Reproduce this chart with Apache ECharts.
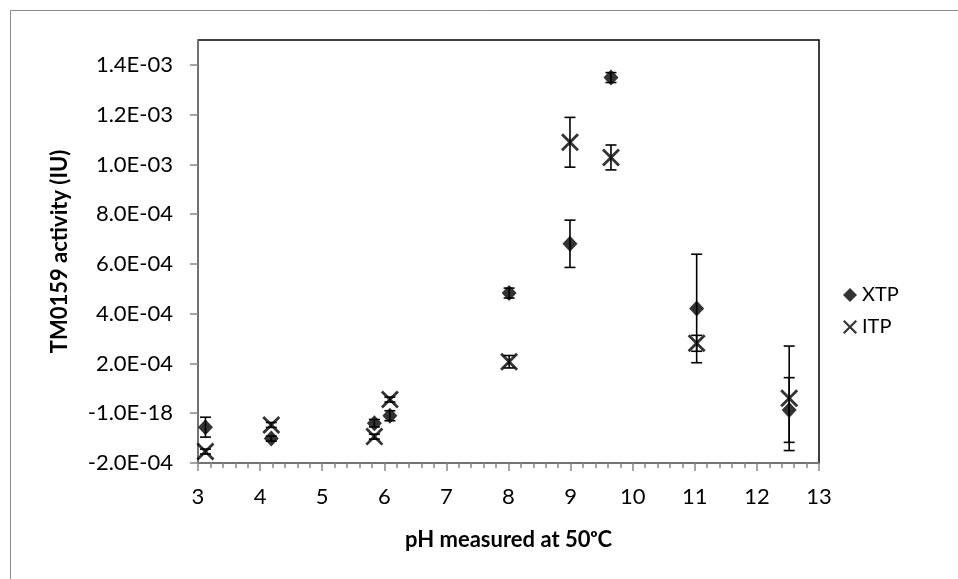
<!DOCTYPE html>
<html>
<head>
<meta charset="utf-8">
<script src="https://cdn.jsdelivr.net/npm/echarts@6/dist/echarts.min.js"></script>
<style>
  html, body { margin: 0; padding: 0; background: #fff; }
  #chart { width: 958px; height: 579px; }
</style>
</head>
<body>
<div id="chart"></div>
<script>
// pH values (x)
var phXtp = [3.12, 4.18, 5.84, 6.09, 8.01, 8.99, 9.65, 11.03, 12.52];
var phItp = [3.12, 4.18, 5.84, 6.09, 8.01, 8.99, 9.65, 11.03, 12.52];

// activity (IU) and error (+/-)
var xtpVals = [-5.6e-5, -1.02e-4, -4.0e-5, -1.0e-5, 4.83e-4, 6.81e-4, 1.349e-3, 4.21e-4, 1.3e-5];
var xtpErr  = [4.0e-5, 1.0e-5, 1.5e-5, 2.0e-5, 2.0e-5, 9.5e-5, 2.0e-5, 2.18e-4, 1.3e-4];
var itpVals = [-1.54e-4, -4.7e-5, -9.4e-5, 5.5e-5, 2.07e-4, 1.089e-3, 1.028e-3, 2.81e-4, 6.0e-5];
var itpErr  = [1.0e-5, 1.0e-5, 1.0e-5, 1.0e-5, 2.5e-5, 1.0e-4, 5.0e-5, 3.2e-5, 2.1e-4];

// y ticks as excel printed them
var yTickVals   = [-2e-4, 0, 2e-4, 4e-4, 6e-4, 8e-4, 1e-3, 1.2e-3, 1.4e-3];
var yTickLabels = ['-2.0E-04', '-1.0E-18', '2.0E-04', '4.0E-04', '6.0E-04', '8.0E-04', '1.0E-03', '1.2E-03', '1.4E-03'];

var FONT = 'Lato';
var xSymbol = 'path://M0,2.2L2.2,0L10,7.8L17.8,0L20,2.2L12.2,10L20,17.8L17.8,20L10,12.2L2.2,20L0,17.8L7.8,10Z';

function pairs(xs, ys) {
    var out = [];
    xs.forEach(function (x, i) { out.push([x, ys[i]]); });
    return out;
}

function errData(xs, ys, errs) {
    var out = [];
    xs.forEach(function (x, i) { out.push([x, ys[i] - errs[i], ys[i] + errs[i]]); });
    return out;
}

function renderErr(params, api) {
    var lo = api.coord([api.value(0), api.value(1)]);
    var hi = api.coord([api.value(0), api.value(2)]);
    var w = 5.5;
    var st = { stroke: '#000', lineWidth: 1.6 };
    return {
        type: 'group',
        children: [
            { type: 'line', shape: { x1: lo[0], y1: lo[1], x2: hi[0], y2: hi[1] }, style: st },
            { type: 'line', shape: { x1: hi[0] - w, y1: hi[1], x2: hi[0] + w, y2: hi[1] }, style: st },
            { type: 'line', shape: { x1: lo[0] - w, y1: lo[1], x2: lo[0] + w, y2: lo[1] }, style: st }
        ]
    };
}

function labelOf(value) {
    for (var i = 0; i < yTickVals.length; i++) {
        if (Math.abs(value - yTickVals[i]) < 1e-9) return yTickLabels[i];
    }
    return '';
}

var chart = echarts.init(document.getElementById('chart'));

var option = {
    backgroundColor: '#fff',
    animation: false,
    graphic: [{
        type: 'rect',
        shape: { x: 10.5, y: 10.5, width: 1200, height: 1200 },
        style: { fill: 'none', stroke: '#8c8c8c', lineWidth: 1 },
        silent: true
    }],
    grid: {
        left: 198, right: 139, top: 40, bottom: 116,
        show: true,
        borderColor: '#000',
        borderWidth: 1.5
    },
    legend: {
        orient: 'vertical',
        left: 838,
        top: 280,
        itemGap: 12,
        itemWidth: 14,
        itemHeight: 14,
        textStyle: { fontFamily: FONT, fontSize: 20, color: '#000' },
        data: ['XTP', 'ITP']
    },
    xAxis: {
        type: 'value',
        min: 3,
        max: 13,
        interval: 1,
        name: 'pH measured at 50\u1d52C',
        nameLocation: 'middle',
        nameGap: 66,
        nameTextStyle: { fontFamily: FONT, fontSize: 22, fontWeight: 'bold', color: '#000' },
        splitLine: { show: false },
        axisLine: { onZero: false, lineStyle: { color: '#868686', width: 1.5 } },
        axisTick: { inside: false, length: 8, lineStyle: { color: '#868686', width: 1.5 } },
        minorTick: { show: true, splitNumber: 5, length: 5, lineStyle: { color: '#868686', width: 1.5 } },
        axisLabel: { fontFamily: FONT, fontSize: 22, color: '#000', margin: 23 }
    },
    yAxis: {
        type: 'value',
        min: -2e-4,
        max: 1.5e-3,
        name: 'TM0159 activity (IU)',
        nameLocation: 'middle',
        nameGap: 127,
        nameRotate: 90,
        nameTextStyle: { fontFamily: FONT, fontSize: 22, fontWeight: 'bold', color: '#000' },
        splitLine: { show: false },
        axisLine: { lineStyle: { color: '#868686', width: 1.5 } },
        axisTick: { length: 8, customValues: yTickVals, lineStyle: { color: '#868686', width: 1.5 } },
        axisLabel: {
            customValues: yTickVals,
            fontFamily: FONT, fontSize: 22, color: '#000', margin: 25,
            formatter: labelOf
        }
    },
    series: [
        {
            name: 'ITP err',
            type: 'custom',
            renderItem: renderErr,
            encode: { x: 0, y: [1, 2] },
            data: errData(phItp, itpVals, itpErr),
            z: 2
        },
        {
            name: 'ITP',
            type: 'scatter',
            symbol: xSymbol,
            symbolSize: 18,
            itemStyle: { color: '#000' },
            data: pairs(phItp, itpVals),
            z: 3
        },
        {
            name: 'XTP err',
            type: 'custom',
            renderItem: renderErr,
            encode: { x: 0, y: [1, 2] },
            data: errData(phXtp, xtpVals, xtpErr),
            z: 4
        },
        {
            name: 'XTP',
            type: 'scatter',
            symbol: 'diamond',
            symbolSize: [15, 16],
            itemStyle: { color: '#000' },
            data: pairs(phXtp, xtpVals),
            z: 5
        }
    ]
};

chart.setOption(option);
window.addEventListener('resize', function () {
    chart.resize();
});
</script>
</body>
</html>
